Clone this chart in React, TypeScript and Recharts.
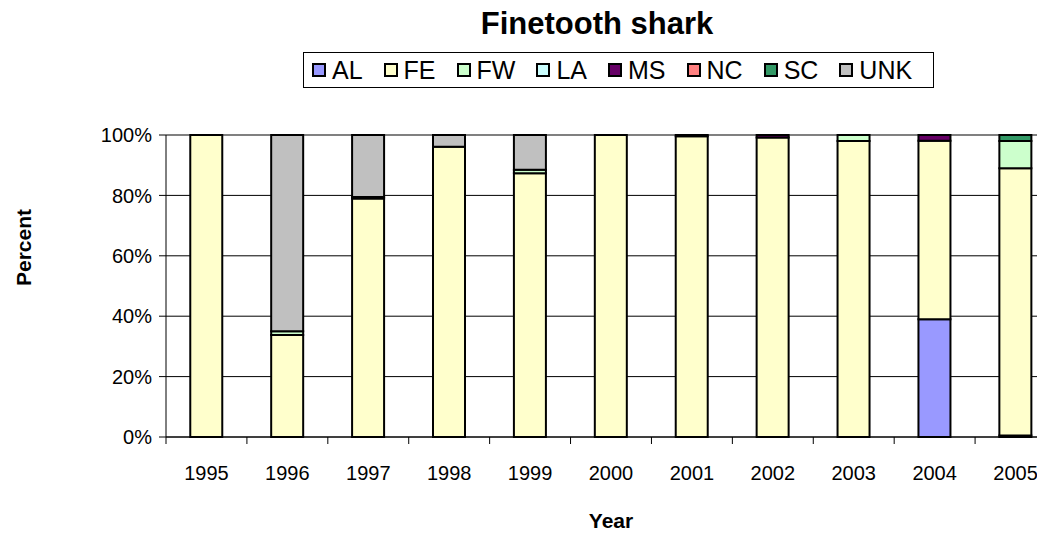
import React from "react";
import { BarChart, Bar, XAxis, YAxis, CartesianGrid, Legend } from "recharts";

const years = ["1995", "1996", "1997", "1998", "1999", "2000", "2001", "2002", "2003", "2004", "2005"];

// percent of landings by state, stacked bottom to top
const AL = [0, 0, 0, 0, 0, 0, 0, 0, 0, 39, 0.5];
const FE = [100, 33.8, 79, 96.1, 87.3, 100, 99.6, 99.2, 98, 59.1, 88.5];
const FW = [0, 1.2, 0.5, 0, 1.2, 0, 0, 0, 2, 0, 9];
const LA = [0, 0, 0, 0, 0, 0, 0, 0, 0, 0, 0];
const MS = [0, 0, 0, 0, 0, 0, 0.4, 0.8, 0, 1.9, 0];
const NC = [0, 0, 0, 0, 0, 0, 0, 0, 0, 0, 0];
const SC = [0, 0, 0, 0, 0, 0, 0, 0, 0, 0, 2];
const UNK = [0, 65, 20.5, 3.9, 11.5, 0, 0, 0, 0, 0, 0];

const yTicks = [0, 20, 40, 60, 80, 100];

const series = [
  { key: "AL", values: AL, color: "#9999FF" },
  { key: "FE", values: FE, color: "#FFFFCC" },
  { key: "FW", values: FW, color: "#CCFFCC" },
  { key: "LA", values: LA, color: "#CCFFFF" },
  { key: "MS", values: MS, color: "#660066" },
  { key: "NC", values: NC, color: "#FF8080" },
  { key: "SC", values: SC, color: "#339966" },
  { key: "UNK", values: UNK, color: "#C0C0C0" },
];

const data = years.map((year, i) => {
  const row: Record<string, string | number> = { year };
  series.forEach((s) => (row[s.key] = s.values[i]));
  return row;
});

const FONT = "'Liberation Sans', Arial, sans-serif";
const CHART_W = 1070;
const MARGIN = { top: 135, right: 14, left: 0, bottom: 0 };
const Y_AXIS_W = 166;
const STEP = (CHART_W - MARGIN.right - Y_AXIS_W) / years.length;

// top gridline is the plot border: grey and a bit heavier
const GridLine = (p: any) => {
  const isTop = Math.abs(p.y1 - MARGIN.top) < 1;
  return (
    <line
      x1={p.x1}
      y1={p.y1}
      x2={p.x2}
      y2={p.y2}
      stroke={isTop ? "#808080" : "#000"}
      strokeWidth={isTop ? 2 : 1}
    />
  );
};

const YearTick = (props: any) => {
  const { x, y, payload } = props;
  const left = x - STEP / 2;
  return (
    <g>
      <line x1={left} y1={y - 8} x2={left} y2={y - 1} stroke="#000" strokeWidth={1} />
      {payload.index === years.length - 1 && (
        <line x1={x + STEP / 2} y1={y - 8} x2={x + STEP / 2} y2={y - 1} stroke="#000" />
      )}
      <text x={x} y={y + 35} textAnchor="middle" fontSize={20} fontFamily={FONT} fill="#000">
        {payload.value}
      </text>
    </g>
  );
};

const LegendBox = () => (
  <div
    style={{
      display: "flex",
      alignItems: "center",
      border: "1px solid #000",
      height: 36,
      padding: "0 0 0 8px",
      background: "#fff",
      fontFamily: FONT,
      fontSize: 25,
      color: "#000",
      boxSizing: "border-box",
      whiteSpace: "nowrap",
    }}
  >
    {series.map((s) => (
      <span key={s.key} style={{ display: "flex", alignItems: "center", marginRight: 21 }}>
        <span
          style={{
            width: 10,
            height: 10,
            background: s.color,
            border: "2px solid #000",
            marginRight: 6,
            display: "inline-block",
          }}
        />
        {s.key}
      </span>
    ))}
  </div>
);

export default function App() {
  return (
    <div style={{ margin: -8, width: 1045, height: 538, overflow: "hidden", position: "relative", background: "#fff" }}>
      <div
        style={{
          position: "absolute",
          top: 6,
          left: 0,
          width: 1194,
          textAlign: "center",
          fontFamily: FONT,
          fontWeight: 700,
          fontSize: 31,
        }}
      >
        Finetooth shark
      </div>
      <BarChart width={CHART_W} height={538} data={data} margin={MARGIN} barCategoryGap="30%">
        <CartesianGrid vertical={false} horizontal={(p: any) => <GridLine key={p.key} {...p} />} />
        <XAxis
          dataKey="year"
          height={101}
          axisLine={{ stroke: "#000", strokeWidth: 1 }}
          tickLine={false}
          tick={<YearTick />}
          interval={0}
          label={{
            value: "Year",
            position: "insideBottom",
            offset: 10,
            fontSize: 21,
            fontWeight: 700,
            fontFamily: FONT,
            fill: "#000",
          }}
        />
        <YAxis
          width={Y_AXIS_W}
          domain={[0, 100]}
          ticks={yTicks}
          tickFormatter={(v: number) => `${v}%`}
          axisLine={{ stroke: "#000", strokeWidth: 1 }}
          tickLine={{ stroke: "#000" }}
          tickSize={7}
          tick={{ fontSize: 20, fontFamily: FONT, fill: "#000", dx: -5 }}
          label={{
            value: "Percent",
            angle: -90,
            position: "insideLeft",
            offset: 24,
            fontSize: 21,
            fontWeight: 700,
            fontFamily: FONT,
            fill: "#000",
          }}
        />
        <Legend
          verticalAlign="middle"
          content={<LegendBox />}
          wrapperStyle={{ position: "absolute", top: 52, left: 303, width: "auto" }}
        />
        {series.map((s) => (
          <Bar
            key={s.key}
            dataKey={s.key}
            stackId="a"
            fill={s.color}
            stroke="#000"
            strokeWidth={2}
            isAnimationActive={false}
          />
        ))}
      </BarChart>
    </div>
  );
}
